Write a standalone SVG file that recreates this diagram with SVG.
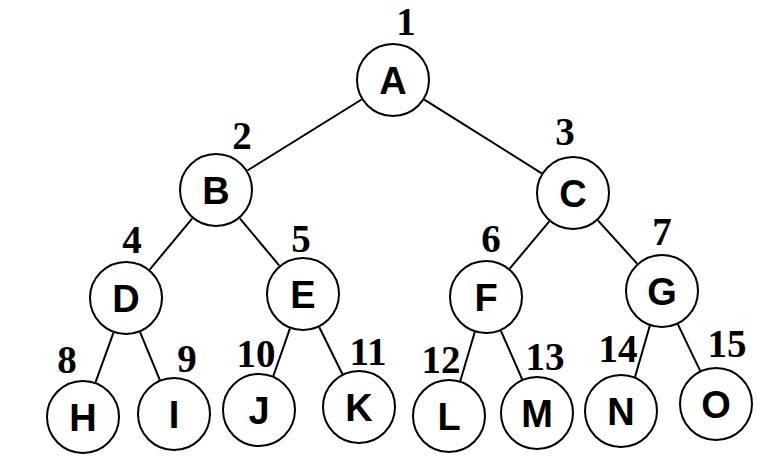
<svg xmlns="http://www.w3.org/2000/svg" width="780" height="470" viewBox="0 0 780 470">
<style>
.n circle{fill:#fff;stroke:#000;stroke-width:2}
.n text.l{font-family:"Liberation Sans",Arial,sans-serif;font-weight:bold;font-size:38px;text-anchor:middle;fill:#000}
.n text.i{font-family:"Liberation Serif","Times New Roman",serif;font-weight:bold;font-size:39px;text-anchor:middle;fill:#000}
#edges line{stroke:#000;stroke-width:2}
</style>
<rect width="780" height="470" fill="#fff"/>
<g id="edges">
<line x1="361.6" y1="99.5" x2="247.4" y2="170.5"/>
<line x1="424.3" y1="99.7" x2="541.7" y2="173.3"/>
<line x1="192.3" y1="218.4" x2="149.7" y2="269.6"/>
<line x1="239.8" y1="218.4" x2="279.3" y2="265.6"/>
<line x1="549.3" y1="221.4" x2="509.7" y2="268.6"/>
<line x1="597.9" y1="220.4" x2="637.1" y2="263.6"/>
<line x1="113.4" y1="332.8" x2="95.6" y2="382.2"/>
<line x1="140.1" y1="332.2" x2="160.2" y2="380.8"/>
<line x1="289.9" y1="328.6" x2="273" y2="377"/>
<line x1="319.3" y1="327.2" x2="342.7" y2="374.8"/>
<line x1="475" y1="331.3" x2="460" y2="382"/>
<line x1="500.9" y1="330.9" x2="522.1" y2="379.1"/>
<line x1="650" y1="325.1" x2="635" y2="377"/>
<line x1="677.9" y1="324.4" x2="700.1" y2="370.6"/>
</g>
<g id="nA" class="n"><circle cx="393" cy="80" r="36"/><text class="l" x="393" y="94">A</text><text class="i" x="406" y="35">1</text></g>
<g id="nB" class="n"><circle cx="216" cy="190" r="36"/><text class="l" x="216" y="204">B</text><text class="i" x="242" y="149">2</text></g>
<g id="nC" class="n"><circle cx="573" cy="193" r="36"/><text class="l" x="573" y="207">C</text><text class="i" x="565" y="145">3</text></g>
<g id="nD" class="n"><circle cx="126" cy="298" r="36"/><text class="l" x="126" y="312">D</text><text class="i" x="132" y="253">4</text></g>
<g id="nE" class="n"><circle cx="303" cy="294" r="36"/><text class="l" x="303" y="308">E</text><text class="i" x="301" y="252">5</text></g>
<g id="nF" class="n"><circle cx="486" cy="297" r="36"/><text class="l" x="486" y="311">F</text><text class="i" x="491" y="252">6</text></g>
<g id="nG" class="n"><circle cx="662" cy="291" r="36"/><text class="l" x="662" y="305">G</text><text class="i" x="662" y="245">7</text></g>
<g id="nH" class="n"><circle cx="83" cy="417" r="36"/><text class="l" x="83" y="431">H</text><text class="i" x="67" y="373">8</text></g>
<g id="nI" class="n"><circle cx="174" cy="414" r="36"/><text class="l" x="174" y="428">I</text><text class="i" x="187" y="372">9</text></g>
<g id="nJ" class="n"><circle cx="259" cy="410" r="36"/><text class="l" x="259" y="424">J</text><text class="i" x="256" y="367">10</text></g>
<g id="nK" class="n"><circle cx="359" cy="407" r="36"/><text class="l" x="359" y="421">K</text><text class="i" x="368" y="365">11</text></g>
<g id="nL" class="n"><circle cx="449" cy="416" r="36"/><text class="l" x="449" y="430">L</text><text class="i" x="441" y="373">12</text></g>
<g id="nM" class="n"><circle cx="537" cy="413" r="36"/><text class="l" x="537" y="427">M</text><text class="i" x="545" y="370">13</text></g>
<g id="nN" class="n"><circle cx="621" cy="411" r="36"/><text class="l" x="621" y="425">N</text><text class="i" x="618" y="362">14</text></g>
<g id="nO" class="n"><circle cx="716" cy="404" r="36"/><text class="l" x="716" y="418">O</text><text class="i" x="727" y="357">15</text></g>
</svg>
